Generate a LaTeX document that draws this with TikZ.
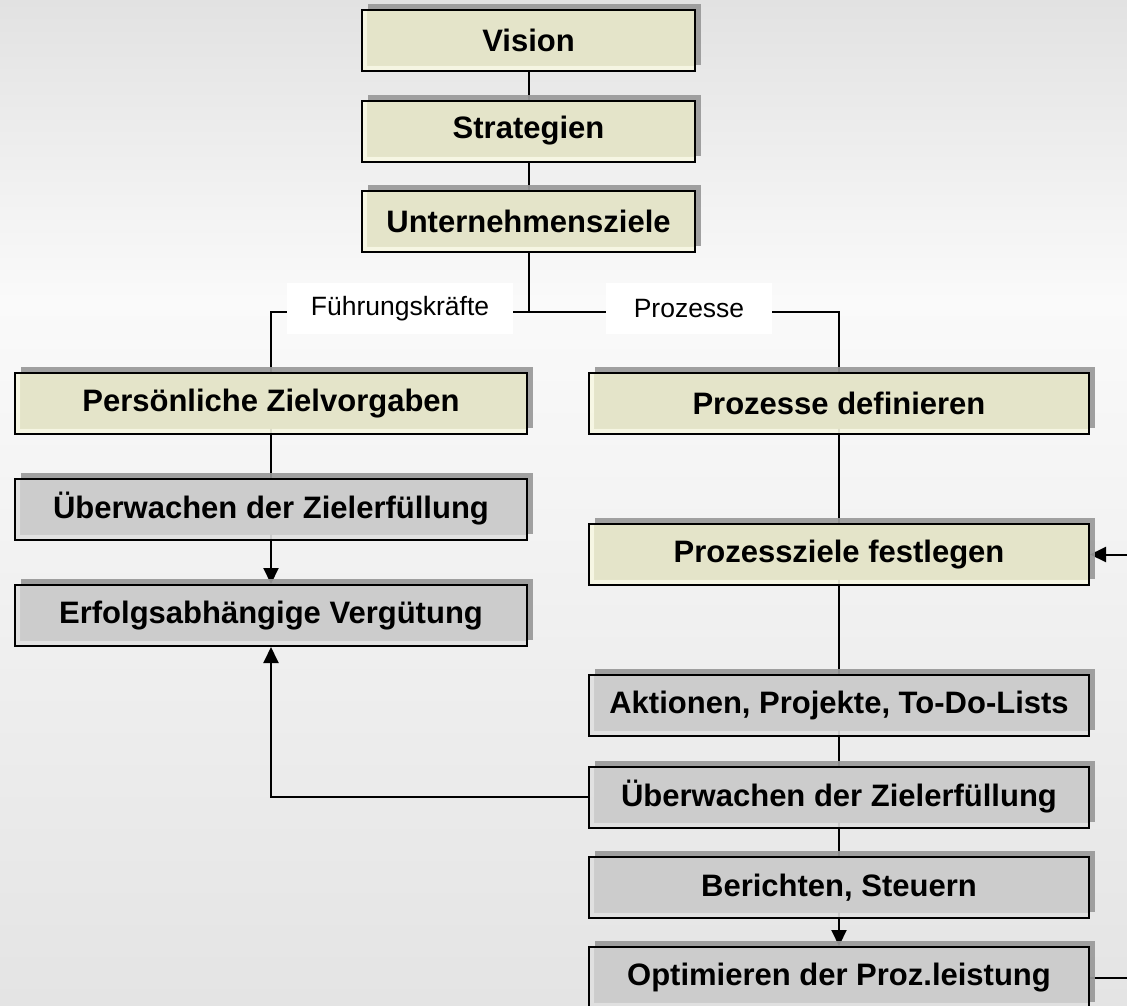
\documentclass[tikz,border=0pt]{standalone}
\usepackage{fontspec}
\setmainfont{Liberation Sans}
\usetikzlibrary{arrows.meta,shadows}
\pgfdeclarelayer{backdrop}
\pgfdeclarelayer{wires}
\pgfsetlayers{backdrop,wires,main}

\definecolor{bgtop}{HTML}{E2E2E2}
\definecolor{bgmid}{HTML}{FAFAFA}
\definecolor{bgbot}{HTML}{E4E4E4}
\definecolor{creamfill}{HTML}{E4E4C8}
\definecolor{creamedge}{HTML}{F7F7E2}
\definecolor{greyfill}{HTML}{CBCBCB}
\definecolor{greyedge}{HTML}{E0E0E0}
\definecolor{shade}{HTML}{999999}

\tikzset{
  box/.style={draw=black, line width=2pt, minimum height=61pt, inner sep=0pt,
    font=\bfseries\fontsize{31}{36}\selectfont, text opacity=1, fill opacity=0.9,
    drop shadow={shadow xshift=6pt, shadow yshift=6pt, fill=shade, opacity=0.92}},
  cream/.style={box, fill=creamedge,
    path picture={\fill[creamfill] ([xshift=5pt,yshift=5pt]path picture bounding box.south west)
      rectangle (path picture bounding box.north east);}},
  grey/.style={box, fill=greyedge,
    path picture={\fill[greyfill] ([xshift=5pt,yshift=5pt]path picture bounding box.south west)
      rectangle (path picture bounding box.north east);}},
  topw/.style={minimum width=333pt},
  leftw/.style={minimum width=512pt},
  rightw/.style={minimum width=500pt},
  tag/.style={fill=white, font=\fontsize{26.5}{30}\selectfont, minimum height=51pt,
    inner xsep=24pt, inner ysep=0pt},
  wire/.style={draw=black, line width=2pt},
  arr/.style={-{Triangle[length=16pt,width=15pt]}}
}

\begin{document}
\begin{tikzpicture}[x=1pt,y=-1pt]
\useasboundingbox (0,0) rectangle (1127,1005);

% background
\begin{pgfonlayer}{backdrop}
  \fill[top color=bgtop, bottom color=bgmid] (0,0) rectangle (1127,301);
  \fill[top color=bgmid, bottom color=bgbot] (0,300) rectangle (1127,1005);
\end{pgfonlayer}

% top chain
\node[cream, topw] (vis) at (528.5,40.5) {Vision};
\node[cream, topw] (str) at (528.5,131) {Strategien};
\node[cream, topw] (uz)  at (528.5,221.5) {Unternehmensziele};

% left branch
\node[cream, leftw] (pz)  at (271,403.5) {Persönliche Zielvorgaben};
\node[grey,  leftw] (uwl) at (271,509) {Überwachen der Zielerfüllung};
\node[grey,  leftw] (erf) at (271,615.5) {Erfolgsabhängige Vergütung};

% right branch
\node[cream, rightw] (pd)  at (839,403.5) {Prozesse definieren};
\node[cream, rightw] (pzf) at (839,554.5) {Prozessziele festlegen};
\node[grey,  rightw] (akt) at (839,705.5) {Aktionen, Projekte, To-Do-Lists};
\node[grey,  rightw] (uwr) at (839,797) {Überwachen der Zielerfüllung};
\node[grey,  rightw] (ber) at (839,887.5) {Berichten, Steuern};
\node[grey,  rightw] (opt) at (839,977.5) {Optimieren der Proz.leistung};

% junction and branch labels
\coordinate (jn) at (528.5,312);
\node[tag] (fk) at (400,308.5) {Führungskräfte};
\node[tag, minimum width=166pt] (pr) at (689,308.5) {Prozesse};

% loop ends at the right border
\coordinate (rin)  at (1127,554.5);
\coordinate (rout) at (1127,977.5);

\begin{pgfonlayer}{wires}
  \draw[wire] (vis.south) -- (str.north);
  \draw[wire] (str.south) -- (uz.north);
  \draw[wire] (uz.south) -- (jn);
  \draw[wire] (jn) -| (pz.north);
  \draw[wire] (jn) -| (pd.north);
  \draw[wire, arr] (pz.north) -- (erf.north);
  \draw[wire, arr] (pd.north) -- (opt.north);
  \draw[wire, arr] (uwr.west) -| (erf.south);
  \draw[wire, arr] (rin) -- (pzf.east);
  \draw[wire] (opt.east) -- (rout);
\end{pgfonlayer}
\end{tikzpicture}
\end{document}
